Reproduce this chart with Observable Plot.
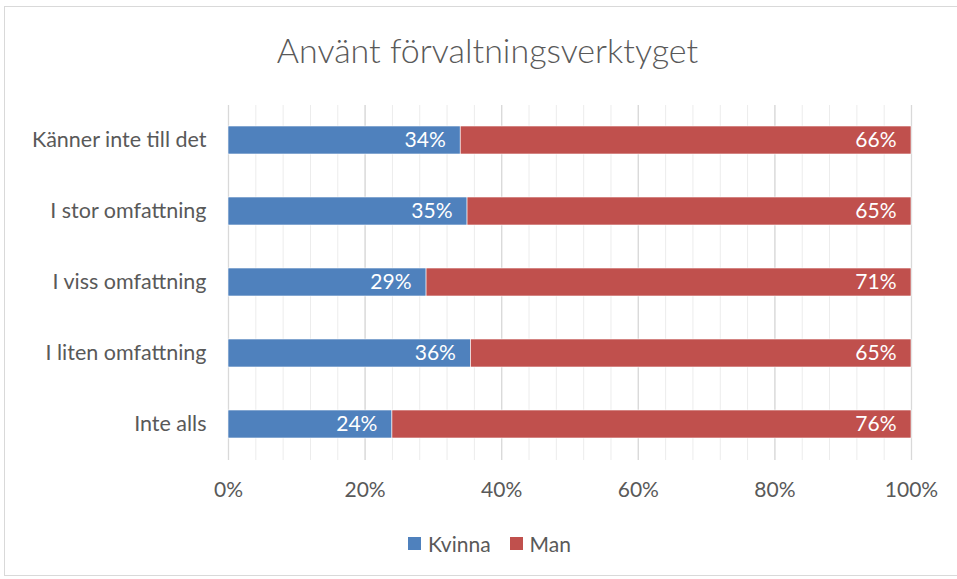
<!DOCTYPE html>
<html>
<head>
<meta charset="utf-8">
<script src="https://cdn.jsdelivr.net/npm/d3@7"></script>
<script src="https://cdn.jsdelivr.net/npm/@observablehq/plot@0.6"></script>
<style>
  body { margin: 0; background: #fff; }
  #wrap { position: relative; width: 957px; height: 579px; overflow: hidden; font-family: Lato, "Open Sans", sans-serif; }
  #frame { position: absolute; left: 4px; top: 6px; width: 970px; height: 570px; border: 1px solid #d9d9d9; box-sizing: border-box; }
  #title { position: absolute; top: 29px; left: 0; width: 975px; text-align: center; font-size: 34px; font-weight: 300; color: #595959; }
  #legend { position: absolute; top: 531px; left: 408px; font-size: 21px; color: #595959; display: flex; align-items: center; }
  .sw { display: inline-block; width: 13px; height: 13px; margin-right: 7px; }
  .item { display: flex; align-items: center; margin-right: 19px; }
  svg { position: absolute; left: 0; top: 0; }
</style>
</head>
<body>
<div id="wrap">
  <div id="frame"></div>
  <div id="chart"></div>
  <div id="title">Använt förvaltningsverktyget</div>
  <div id="legend"></div>
</div>
<script>
const categories = ["Känner inte till det", "I stor omfattning", "I viss omfattning", "I liten omfattning", "Inte alls"];
const seriesNames = ["Kvinna", "Man"];
const kvinna = [34, 35, 29, 35.5, 24];
const man = [66, 65, 71, 64.5, 76];
const colors = ["#4f81bd", "#c0504d"];
const xTicks = [0, 20, 40, 60, 80, 100];
const minorTicks = d3.range(0, 101, 4);

const rows = [];
categories.forEach((c, i) => {
  const k = kvinna[i], m = man[i];
  rows.push({cat: c, series: "Kvinna", x1: 0, x2: k, v: k});
  rows.push({cat: c, series: "Man", x1: k, x2: k + m, v: m});
});

const chart = Plot.plot({
  width: 957,
  height: 579,
  marginLeft: 228,
  marginRight: 46,
  marginTop: 105,
  marginBottom: 119,
  style: {fontFamily: "Lato, 'Open Sans', sans-serif", background: "transparent"},
  x: {domain: [0, 100]},
  y: {domain: categories, paddingInner: 0.6, paddingOuter: 0.3},
  color: {domain: seriesNames, range: colors},
  marks: [
    Plot.ruleX(minorTicks, {stroke: "#ececec", strokeWidth: 1}),
    Plot.ruleX(xTicks, {stroke: "#d9d9d9", strokeWidth: 1.3}),
    Plot.barX(rows, {y: "cat", x1: "x1", x2: "x2", fill: "series", stroke: "white", strokeWidth: 0.6}),
    Plot.text(rows, {y: "cat", x: "x2", text: d => Math.round(d.v) + "%", dx: -15, textAnchor: "end", fill: "white", fontSize: 21}),
    Plot.axisX({ticks: xTicks, tickFormat: d => d + "%", tickSize: 0, tickPadding: 22, fontSize: 21, color: "#595959", label: null}),
    Plot.axisY({tickSize: 0, tickPadding: 22, fontSize: 21.5, color: "#595959", label: null})
  ]
});
document.getElementById("chart").appendChild(chart);

const legend = document.getElementById("legend");
seriesNames.forEach((s, i) => {
  const it = document.createElement("div");
  it.className = "item";
  it.innerHTML = `<span class="sw" style="background:${colors[i]}"></span><span>${s}</span>`;
  legend.appendChild(it);
});
</script>
</body>
</html>
